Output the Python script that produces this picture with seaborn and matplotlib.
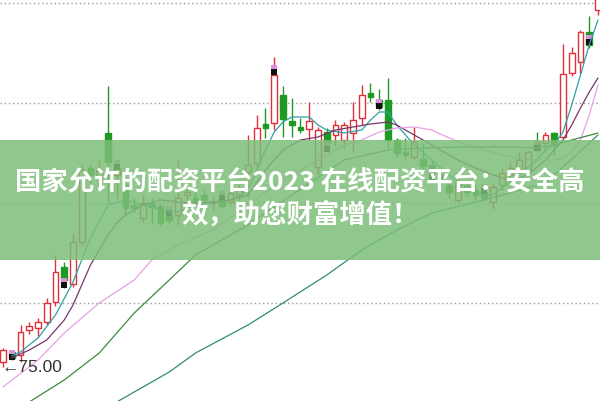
import matplotlib
matplotlib.use("Agg")
import matplotlib.pyplot as plt
from matplotlib.patches import Rectangle
import numpy as np
import pandas as pd
import seaborn as sns

# candle data (open, close, high, low)
opens = [75.25, 75.75, 75.60, 76.85, 76.95, 77.25, 78.25, 80.00, 79.15, 81.25,
         84.95, 84.45, 86.70, 84.60, 84.10, 83.10, 82.45, 83.20, 83.05, 82.60,
         82.60, 83.60, 83.45, 83.60, 83.20, 83.35, 83.25, 83.60, 84.75, 85.20,
         87.15, 87.20, 88.60, 87.30, 87.00, 86.90, 85.00, 86.75, 86.60, 86.35,
         86.70, 87.45, 88.70, 88.35, 88.35, 86.35, 85.75, 85.50, 85.40, 85.10,
         84.60, 84.10, 83.35, 84.05, 83.85, 83.75, 83.25, 84.10, 84.60, 84.85,
         84.85, 86.25, 86.20, 86.70, 86.50, 89.70, 90.25, 91.75, 92.85]
closes = [75.85, 75.45, 76.75, 77.05, 77.25, 78.20, 79.75, 79.35, 81.25, 84.85,
          84.60, 84.85, 85.25, 84.95, 82.95, 82.95, 83.20, 83.00, 82.20, 82.35,
          83.45, 83.75, 83.25, 83.35, 83.22, 83.05, 83.70, 83.85, 85.10, 86.95,
          86.95, 89.60, 87.40, 87.10, 86.85, 87.30, 86.85, 86.20, 87.10, 87.10,
          87.35, 88.60, 88.50, 88.00, 86.35, 85.70, 85.60, 86.25, 85.05, 84.70,
          84.35, 83.75, 84.25, 83.75, 83.60, 83.45, 84.00, 84.70, 84.95, 85.35,
          85.75, 85.85, 86.60, 86.10, 89.65, 90.70, 91.75, 91.10, 93.60]
highs = [75.95, 75.85, 77.10, 77.25, 77.45, 78.45, 80.60, 80.25, 81.70, 85.10,
         85.10, 85.35, 89.05, 85.35, 84.45, 83.45, 83.60, 83.45, 83.20, 82.75,
         85.35, 84.10, 83.75, 83.85, 83.55, 83.55, 83.90, 84.10, 86.60, 87.60,
         87.95, 90.50, 89.05, 88.45, 87.45, 88.25, 87.00, 86.95, 87.35, 87.25,
         88.25, 89.10, 89.20, 88.90, 89.45, 86.45, 86.45, 87.00, 86.20, 85.35,
         84.85, 84.35, 84.45, 84.35, 84.10, 83.95, 84.20, 84.95, 85.25, 85.75,
         85.85, 86.75, 86.75, 86.75, 91.15, 91.00, 91.85, 92.55, 93.85]
lows = [75.00, 75.35, 75.25, 76.65, 76.55, 77.10, 78.05, 78.95, 79.00, 81.10,
        84.10, 84.10, 83.20, 83.45, 82.60, 82.75, 82.25, 82.20, 82.05, 82.15,
        82.10, 83.35, 83.10, 82.85, 82.85, 82.95, 83.10, 83.35, 83.50, 84.85,
        86.45, 86.85, 86.50, 86.50, 86.70, 86.35, 84.60, 86.00, 86.10, 85.95,
        85.75, 87.10, 88.25, 87.85, 85.95, 85.50, 85.35, 85.35, 84.85, 84.50,
        84.10, 83.45, 83.25, 83.55, 83.35, 83.35, 82.90, 83.85, 84.35, 84.60,
        84.70, 85.75, 85.75, 85.60, 86.45, 89.55, 89.70, 90.95, 92.60]

# flag markers drawn on some candles
flag_idx = [1, 7, 13, 19, 25, 31, 37, 43, 49, 55, 61, 67]
flag_price = [75.60, 79.20, 85.10, 82.80, 83.55, 89.85, 86.00, 88.15, 84.60,
              83.90, 86.05, 91.35]

# moving average lines
ma5_idx = [1, 2, 4, 6, 8, 9, 10, 12, 14, 16, 18, 20, 22, 24, 26, 28, 29, 30, 31,
           32, 33, 35, 36, 37, 39, 41, 42, 43, 44, 45, 47, 49, 51, 53, 55, 56,
           57, 59, 61, 62, 63, 64, 65, 66, 67, 68]
ma5_val = [75.55, 75.75, 76.45, 77.60, 79.25, 80.35, 81.45, 83.10, 83.35, 83.10,
           82.85, 82.75, 83.10, 83.25, 83.35, 83.85, 84.85, 85.85, 86.75, 87.25,
           87.50, 87.50, 87.10, 86.85, 86.70, 86.85, 87.35, 87.75, 87.75, 87.10,
           86.10, 85.35, 84.60, 83.95, 83.60, 83.60, 83.95, 84.60, 85.35, 85.85,
           86.10, 86.75, 88.10, 89.60, 91.10, 92.35]
ma10_idx = [1, 3, 5, 7, 8, 9, 10, 11, 12, 13, 14, 16, 18, 20, 22, 24, 26, 28, 30,
            32, 34, 36, 38, 40, 42, 44, 45, 46, 48, 50, 52, 54, 56, 58, 60, 62,
            63, 64, 65, 66, 67, 68]
ma10_val = [75.45, 75.85, 76.35, 77.35, 78.10, 79.10, 80.10, 80.85, 81.60, 82.20,
            82.60, 83.10, 83.35, 83.25, 83.20, 83.25, 83.35, 83.60, 84.85, 85.85,
            86.35, 86.50, 86.85, 87.00, 87.15, 87.25, 87.10, 86.85, 86.35, 85.85,
            85.35, 84.95, 84.60, 84.35, 84.60, 85.35, 85.85, 86.35, 87.10, 87.95,
            88.75, 89.45]
ma20_idx = [0, 4, 7, 11, 15, 17, 20, 24, 28, 32, 36, 39, 41, 43, 45, 47, 49, 51,
            53, 55, 57, 59, 61, 63, 64, 65, 66, 67, 68]
ma20_val = [74.00, 75.35, 76.70, 78.20, 79.35, 80.35, 81.10, 81.85, 83.10, 84.35,
            85.35, 86.10, 86.35, 86.75, 86.95, 87.00, 86.85, 86.45, 86.10, 85.85,
            85.60, 85.45, 85.35, 85.35, 85.45, 85.75, 86.35, 87.60, 89.10]
ma30_idx = [3, 7, 11, 15, 19, 22, 28, 33, 39, 44, 48, 53, 58, 61, 63, 65, 68]
ma30_val = [73.25, 74.35, 75.70, 77.70, 79.35, 80.60, 82.10, 83.60, 85.35, 85.85,
            85.95, 86.00, 86.00, 85.95, 86.10, 86.35, 86.70]
ma60_idx = [13, 19, 22, 28, 32, 37, 41, 45, 49, 55, 62, 68]
ma60_val = [73.25, 74.75, 75.70, 77.10, 78.20, 79.60, 80.85, 81.85, 82.70, 83.35,
            84.20, 86.60]

grid_levels = [93.2, 88.2, 83.2, 78.2]
low_label = "←75.00"
title_1 = "国家允许的配资平台2023 在线配资平台：安全高"
title_2 = "效，助您财富增值！"

sns.set_style("white")
plt.rcParams["font.family"] = ["Noto Sans CJK SC", "DejaVu Sans"]

fig = plt.figure(figsize=(6, 4.01), dpi=100)
ax = fig.add_axes([0, 0, 1, 1])
ax.set_axis_off()

for g in grid_levels:
    ax.axhline(g, color="#9a9a9a", linewidth=1, linestyle=(0, (1, 2)), zorder=1)

candles = pd.DataFrame({"open": opens, "close": closes, "high": highs, "low": lows})
candles["idx"] = np.arange(len(candles))
up = candles[candles["close"] >= candles["open"]]
down = candles[candles["close"] < candles["open"]]
red = "#e0303a"
green = "#1e9a24"
body_w = 0.68

ax.vlines(up["idx"], up["low"], up["high"], color=red, linewidth=1, zorder=3)
ax.bar(up["idx"], up["close"] - up["open"], bottom=up["open"], width=body_w,
       facecolor="white", edgecolor=red, linewidth=1, zorder=4)
ax.vlines(down["idx"], down["low"], down["high"], color=green, linewidth=1, zorder=3)
ax.bar(down["idx"], down["close"] - down["open"], bottom=down["open"], width=body_w,
       facecolor=green, edgecolor=green, linewidth=1, zorder=4)

# small flags
ax.scatter(flag_idx, np.array(flag_price) + 0.12, marker="s", s=14, color="#e08ee0",
           zorder=5, linewidths=0)
ax.scatter(flag_idx, np.array(flag_price) - 0.12, marker="s", s=14, color="#111111",
           zorder=5, linewidths=0)

ma_lines = [
    (ma5_idx, ma5_val, "#2f9fa8"),
    (ma10_idx, ma10_val, "#74386b"),
    (ma20_idx, ma20_val, "#e6a2e6"),
    (ma30_idx, ma30_val, "#3b8a3b"),
    (ma60_idx, ma60_val, "#2f8c72"),
]
for xs, ys, col in ma_lines:
    sns.lineplot(x=xs, y=ys, ax=ax, color=col, linewidth=0.9, zorder=6)

ax.text(-0.2, 74.95, low_label, fontsize=12.5, color="#333333", va="center",
        ha="left", family=["Liberation Sans", "DejaVu Sans"], zorder=7)

ax.set_xlim(-0.343, 68.23)
ax.set_ylim(73.3, 93.35)

band_bottom = 1 - 260 / 401
band_top = 1 - 140 / 401
ax.add_patch(Rectangle((0, band_bottom), 1, band_top - band_bottom,
                       transform=ax.transAxes, facecolor="#7dbd78", alpha=0.85,
                       edgecolor="none", zorder=8))
ax.text(0.5, 1 - 183 / 401, title_1, transform=ax.transAxes, ha="center",
        va="center", fontsize=19, fontweight="bold", color="white", zorder=9)
ax.text(0.5, 1 - 215 / 401, title_2, transform=ax.transAxes, ha="center",
        va="center", fontsize=19, fontweight="bold", color="white", zorder=9)

fig.savefig("out.png", dpi=100)
